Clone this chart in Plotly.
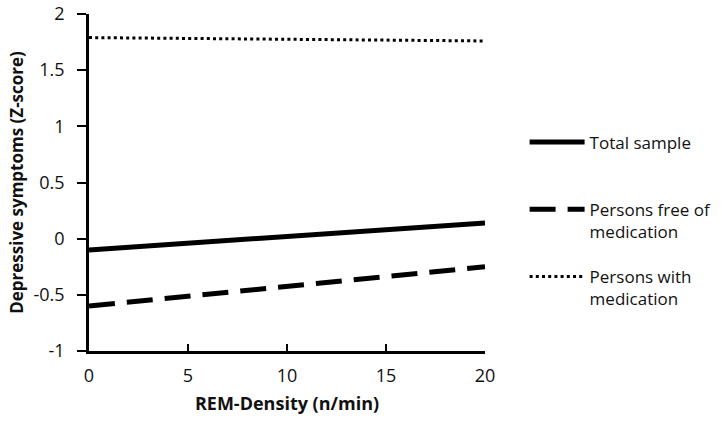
import plotly.graph_objects as go

# Data
x_vals = [0, 20]
total_sample = [-0.10, 0.14]
free_of_medication = [-0.60, -0.25]
with_medication = [1.79, 1.76]

series_names = ["Total sample<br>&nbsp;", "Persons free of<br>medication", "Persons with<br>medication"]

x_ticks = [0, 5, 10, 15, 20]
y_ticks = [-1, -0.5, 0, 0.5, 1, 1.5, 2]
y_tick_labels = ["-1", "-0.5", "0", "0.5", "1", "1.5", "2"]

FONT = "'Open Sans', Lato, sans-serif"
TXT = "#111111"

fig = go.Figure()
fig.add_trace(go.Scatter(x=x_vals, y=total_sample, mode="lines", name=series_names[0],
                         line=dict(color="black", width=5), legendgroup="a"))
fig.add_trace(go.Scatter(x=x_vals, y=free_of_medication, mode="lines", name=series_names[1],
                         line=dict(color="black", width=5, dash="26px,12px"), legendgroup="b"))
fig.add_trace(go.Scatter(x=x_vals, y=with_medication, mode="lines", name=series_names[2],
                         line=dict(color="black", width=3, dash="3px,3.2px"), legendgroup="c"))

fig.update_layout(
    width=722, height=424,
    margin=dict(l=89, r=237, t=14, b=73, autoexpand=False),
    paper_bgcolor="white", plot_bgcolor="white",
    font=dict(family=FONT, size=17, color=TXT),
    showlegend=True,
    legend=dict(x=1.1, y=0.672, xanchor="left", yanchor="top",
                font=dict(size=17, color=TXT), itemwidth=55, valign="top",
                tracegroupgap=20, bgcolor="rgba(0,0,0,0)"),
)
fig.update_xaxes(
    range=[0, 20], tickvals=x_ticks, ticks="inside", ticklen=7, tickwidth=2,
    tickcolor="black", showline=True, linecolor="black", linewidth=2.5,
    showgrid=False, zeroline=False, automargin=False, ticklabelstandoff=7,
    tickfont=dict(size=18, color=TXT),
    title=dict(text="<b>REM-Density (n/min)</b>", font=dict(size=18, color=TXT), standoff=12),
)
fig.update_yaxes(
    range=[-1, 2], tickvals=y_ticks, ticktext=y_tick_labels, ticks="outside", ticklen=9,
    tickwidth=2, tickcolor="black", showline=True, linecolor="black", linewidth=2.5,
    showgrid=False, zeroline=False, automargin=False, ticklabelstandoff=9,
    tickfont=dict(size=18, color=TXT),
    title=dict(text="<b>Depressive symptoms (Z-score)</b>", font=dict(size=17, color=TXT), standoff=6),
)

fig.write_html("out.html", config={"displayModeBar": False},
               post_script="document.body.style.margin='0px';")
